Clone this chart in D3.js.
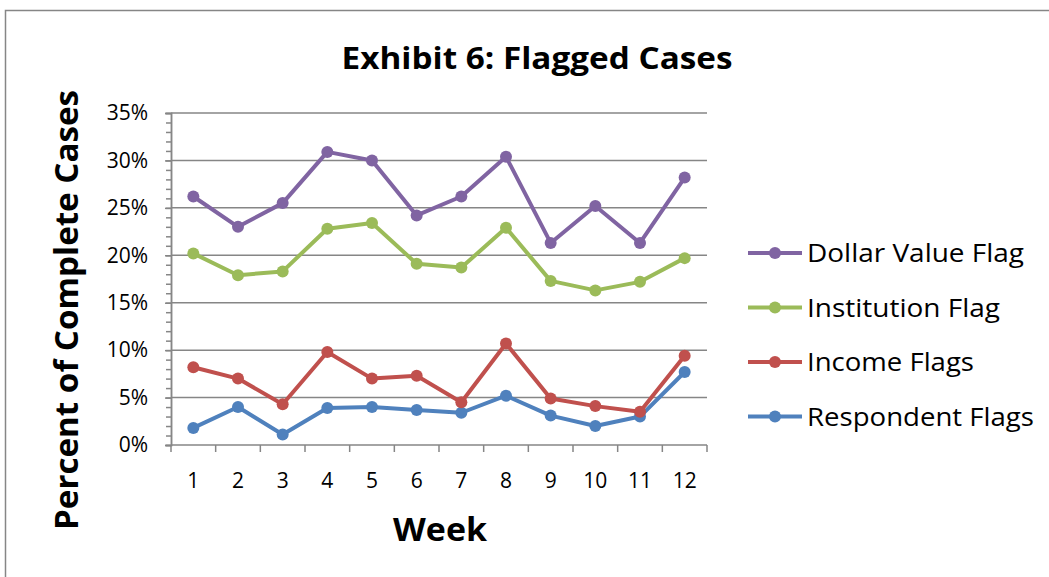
<!DOCTYPE html>
<html>
<head>
<meta charset="utf-8">
<script src="https://cdn.jsdelivr.net/npm/d3@7"></script>
<style>
  body { margin: 0; background: #fff; }
  text { font-family: "Open Sans", "Noto Sans", sans-serif; fill: #000; }
</style>
</head>
<body>
<svg id="chart" width="1049" height="577"></svg>
<script>
// data
var weeks = ["1", "2", "3", "4", "5", "6", "7", "8", "9", "10", "11", "12"];
var seriesNames = ["Dollar Value Flag", "Institution Flag", "Income Flags", "Respondent Flags"];
var dollarValue = [26.2, 23.0, 25.5, 30.9, 30.0, 24.2, 26.2, 30.4, 21.3, 25.2, 21.3, 28.2];
var institution = [20.2, 17.9, 18.3, 22.8, 23.4, 19.1, 18.7, 22.9, 17.3, 16.3, 17.2, 19.7];
var income = [8.2, 7.0, 4.3, 9.8, 7.0, 7.3, 4.5, 10.7, 4.9, 4.1, 3.5, 9.4];
var respondent = [1.8, 4.0, 1.1, 3.9, 4.0, 3.7, 3.4, 5.2, 3.1, 2.0, 3.0, 7.7];
var yTicks = [0, 5, 10, 15, 20, 25, 30, 35];

var colors = ["#8064A2", "#9BBB59", "#C0504D", "#4F81BD"];
var allSeries = [dollarValue, institution, income, respondent];

var svg = d3.select("#chart"),
  width = +svg.attr("width"),
  height = +svg.attr("height");

// chart frame (runs off the right and bottom edge)
svg.append("rect")
  .attr("x", 5.5).attr("y", 10.5)
  .attr("width", width + 20).attr("height", height + 20)
  .attr("fill", "none").attr("stroke", "#868686").attr("stroke-width", 1.5);

var plotL = 171, plotR = 707, plotT = 113, plotB = 445;

var x = d3.scaleBand().domain(weeks).range([plotL, plotR]);
var y = d3.scaleLinear().domain([0, 35]).range([plotB, plotT]);

// gridlines
svg.append("g")
  .selectAll("line")
  .data(yTicks.slice(1))
  .enter()
  .append("line")
  .attr("x1", plotL).attr("x2", plotR)
  .attr("y1", d => y(d)).attr("y2", d => y(d))
  .attr("stroke", "#868686").attr("stroke-width", 1.5);

// y axis with minor ticks
var yMinor = svg.append("g").attr("transform", "translate(" + plotL + ",0)");
yMinor.call(d3.axisLeft(y).ticks(35).tickSize(5).tickFormat(""));
var yAxis = svg.append("g").attr("transform", "translate(" + plotL + ",0)");
yAxis.call(d3.axisLeft(y).tickValues(yTicks).tickSize(6).tickFormat(d => d + "%"));
svg.selectAll(".domain, .tick line").attr("stroke", "#868686").attr("stroke-width", 1.5);
yAxis.selectAll("text")
  .attr("x", -23)
  .attr("fill", "#000")
  .style("font-size", "21px")
  .style("font-family", "'Open Sans', sans-serif");

// x axis, ticks between categories
var xAxis = svg.append("g").attr("transform", "translate(0," + plotB + ")");
xAxis.append("line")
  .attr("x1", plotL).attr("x2", plotR)
  .attr("stroke", "#868686").attr("stroke-width", 1.5);
xAxis.selectAll("line.tk")
  .data(weeks.concat(["end"]))
  .enter()
  .append("line")
  .attr("class", "tk")
  .attr("x1", (d, i) => plotL + i * x.bandwidth())
  .attr("x2", (d, i) => plotL + i * x.bandwidth())
  .attr("y1", 0).attr("y2", 7)
  .attr("stroke", "#868686").attr("stroke-width", 1.5);
xAxis.selectAll("text")
  .data(weeks)
  .enter()
  .append("text")
  .attr("x", d => x(d) + x.bandwidth() / 2)
  .attr("y", 43)
  .attr("text-anchor", "middle")
  .style("font-size", "21px")
  .text(d => d);

// lines, drawn bottom series first
var line = d3.line()
  .x((d, i) => x(weeks[i]) + x.bandwidth() / 2)
  .y(d => y(d));

[3, 2, 1, 0].forEach(function (k) {
  var g = svg.append("g");
  g.append("path")
    .attr("d", line(allSeries[k]))
    .attr("fill", "none")
    .attr("stroke", colors[k])
    .attr("stroke-width", 4)
    .attr("stroke-linejoin", "round");
  g.selectAll("circle")
    .data(allSeries[k])
    .enter()
    .append("circle")
    .attr("cx", (d, i) => x(weeks[i]) + x.bandwidth() / 2)
    .attr("cy", d => y(d))
    .attr("r", 6)
    .attr("fill", colors[k]);
});

// title and axis titles
svg.append("text")
  .attr("x", 537).attr("y", 69)
  .attr("text-anchor", "middle")
  .style("font-size", "31px").style("font-weight", "bold")
  .attr("textLength", 391).attr("lengthAdjust", "spacingAndGlyphs")
  .text("Exhibit 6: Flagged Cases");

svg.append("text")
  .attr("transform", "translate(78,310) rotate(-90)")
  .attr("text-anchor", "middle")
  .style("font-size", "32px").style("font-weight", "bold")
  .attr("textLength", 440).attr("lengthAdjust", "spacingAndGlyphs")
  .text("Percent of Complete Cases");

svg.append("text")
  .attr("x", 440).attr("y", 541)
  .attr("text-anchor", "middle")
  .style("font-size", "32px").style("font-weight", "bold")
  .attr("textLength", 94).attr("lengthAdjust", "spacingAndGlyphs")
  .text("Week");

// legend
var legendW = [217, 193, 167, 227];
var legend = svg.append("g")
  .selectAll("g")
  .data(seriesNames)
  .enter()
  .append("g")
  .attr("transform", (d, i) => "translate(748," + (253 + i * 54.5) + ")");
legend.append("line")
  .attr("x1", 0).attr("x2", 54)
  .attr("stroke", (d, i) => colors[i]).attr("stroke-width", 4);
legend.append("circle")
  .attr("cx", 27).attr("r", 6)
  .attr("fill", (d, i) => colors[i]);
legend.append("text")
  .attr("x", 59).attr("y", 9)
  .style("font-size", "26px")
  .attr("textLength", (d, i) => legendW[i]).attr("lengthAdjust", "spacingAndGlyphs")
  .text(d => d);
</script>
</body>
</html>
